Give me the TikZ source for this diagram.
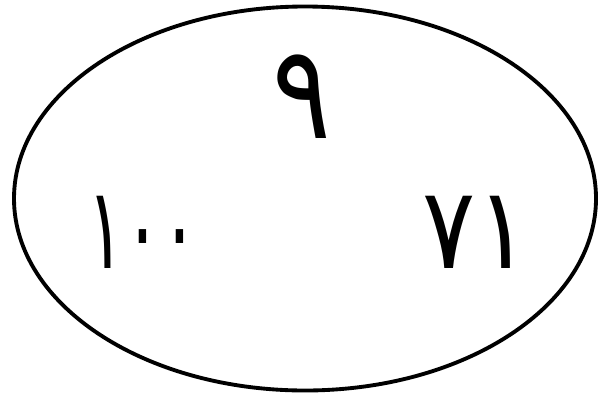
\documentclass[tikz,border=0pt]{standalone}
\usepackage{fontspec}
\usepackage{graphicx}
\newfontfamily\arabicfont[Script=Arabic]{DejaVu Sans}
\usepackage{tikz}
\usetikzlibrary{shapes.geometric}

\begin{document}
\begin{tikzpicture}[
  oval/.style={ellipse, draw, line width=1.1pt, minimum width=5.82cm,
               minimum height=3.84cm, inner sep=0pt},
  num/.style={font=\arabicfont\fontsize{30}{30}\selectfont, inner sep=0pt, anchor=center}
]
  \useasboundingbox (0,0) rectangle (6.1,3.98);
  \node[oval] (set) at (3.05,1.995) {};
  \node[num] (top) at (3.02,3.01) {\scalebox{1.04}[1.24]{٩}};
  \node[num] (left) at (1.43,1.66) {\scalebox{0.65}[1.08]{١٠٠}};
  \node[num] (right) at (4.76,1.66) {\scalebox{0.94}[1.08]{٧١}};
\end{tikzpicture}
\end{document}
